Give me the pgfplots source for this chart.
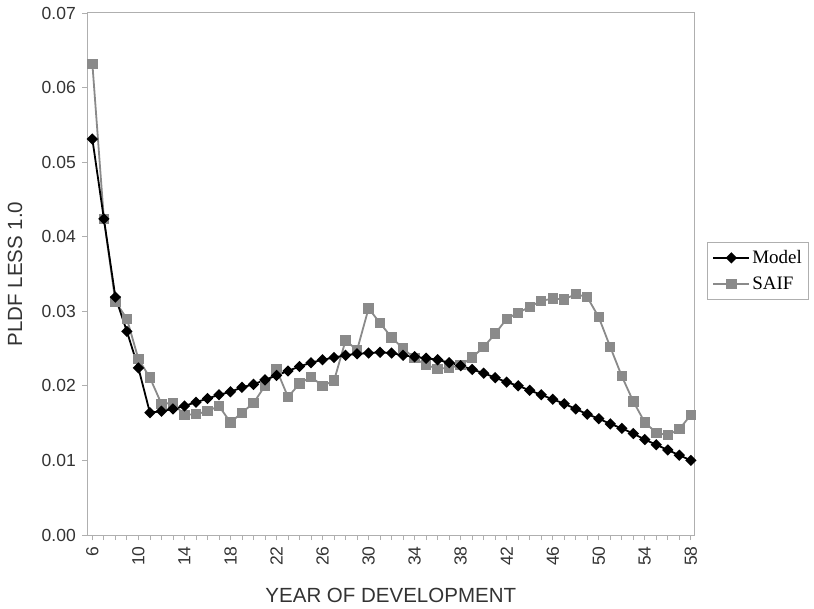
\documentclass[border=0pt]{standalone}
\usepackage{pgfplots}
\pgfplotsset{compat=1.18}
\usepackage{fontspec}
\setmainfont{Liberation Sans}
\newfontfamily\legendfont{Liberation Serif}
\definecolor{saif}{RGB}{138,138,138}
\definecolor{axgray}{RGB}{175,175,175}
\begin{document}
\begin{tikzpicture}
\path[use as bounding box] (0,0) rectangle (814pt,608pt);
\begin{axis}[
  at={(87.3pt,73pt)}, anchor=south west,
  scale only axis, width=607pt, height=522pt,
  xmin=5.56, xmax=58.3, ymin=0, ymax=0.07,
  xtick={6,10,...,58}, minor xtick={6,...,58},
  ytick={0,0.01,...,0.07},
  xtick pos=bottom, ytick pos=left,
  tick align=outside,
  major tick length=5pt, minor tick length=5pt,
  tick style={draw=axgray, line width=0.8pt},
  axis line style={draw=axgray, line width=1pt},
  /pgf/number format/assume math mode=true,
  ticklabel style={font=\fontsize{17.5}{19}\selectfont, text=black!80},
  yticklabel style={xshift=-3pt, /pgf/number format/.cd, fixed, fixed zerofill, precision=2},
  xticklabel style={rotate=90, anchor=east, xshift=-3pt},
  scaled y ticks=false,
  every axis x label/.style={at={(axis description cs:0.5,-0.115)}, anchor=center},
  every axis y label/.style={at={(axis description cs:-0.119,0.5)}, rotate=90, anchor=center},
  label style={font=\fontsize{20.5}{22}\selectfont, text=black!80},
  xlabel={YEAR OF DEVELOPMENT},
  ylabel={PLDF LESS 1.0},
  reverse legend,
  legend style={at={(axis description cs:1.021,0.561)}, anchor=north west,
    draw=axgray, line width=0.8pt, font=\legendfont\fontsize{19}{21}\selectfont,
    inner xsep=5pt, inner ysep=6pt, row sep=8pt},
  legend cell align=left,
  legend image code/.code={\draw[mark repeat=2,mark phase=2,#1] plot coordinates {(0pt,0pt) (18pt,0pt) (36pt,0pt)};},
  clip=false,
]
\addplot[color=saif, line width=1.8pt, mark=square*, mark size=4.3pt, mark options={solid, fill=saif, draw=saif}] coordinates {
(6,0.0632) (7,0.0424) (8,0.0313) (9,0.0290) (10,0.0236) (11,0.0211) (12,0.0176) (13,0.0177)
(14,0.0161) (15,0.0162) (16,0.0166) (17,0.0173) (18,0.0151) (19,0.0164) (20,0.0177) (21,0.0200)
(22,0.0222) (23,0.0185) (24,0.0203) (25,0.0212) (26,0.0200) (27,0.0207) (28,0.0261) (29,0.0248)
(30,0.0304) (31,0.0284) (32,0.0265) (33,0.0250) (34,0.0237) (35,0.0228) (36,0.0223) (37,0.0224)
(38,0.0228) (39,0.0238) (40,0.0252) (41,0.0270) (42,0.0290) (43,0.0298) (44,0.0306) (45,0.0314)
(46,0.0317) (47,0.0316) (48,0.0323) (49,0.0319) (50,0.0292) (51,0.0252) (52,0.0213) (53,0.0179)
(54,0.0151) (55,0.0137) (56,0.0134) (57,0.0142) (58,0.0161)
};
\addlegendentry{SAIF}
\addplot[color=black, line width=1.8pt, mark=square*, mark size=3.1pt, mark options={solid, fill=black, rotate=45}] coordinates {
(6,0.0531) (7,0.0424) (8,0.0319) (9,0.0273) (10,0.0224) (11,0.0164) (12,0.0166) (13,0.0169)
(14,0.0173) (15,0.0178) (16,0.0183) (17,0.0188) (18,0.0192) (19,0.0198) (20,0.0202) (21,0.0208)
(22,0.0214) (23,0.0220) (24,0.0226) (25,0.0231) (26,0.0235) (27,0.0238) (28,0.0241) (29,0.0243)
(30,0.0244) (31,0.0245) (32,0.0244) (33,0.0241) (34,0.0239) (35,0.0237) (36,0.0235) (37,0.0231)
(38,0.0227) (39,0.0222) (40,0.0217) (41,0.0211) (42,0.0205) (43,0.0200) (44,0.0194) (45,0.0188)
(46,0.0182) (47,0.0176) (48,0.0169) (49,0.0162) (50,0.0156) (51,0.0149) (52,0.0143) (53,0.0136)
(54,0.0128) (55,0.0121) (56,0.0114) (57,0.0107) (58,0.0100)
};
\addlegendentry{Model}
\end{axis}
\end{tikzpicture}
\end{document}
